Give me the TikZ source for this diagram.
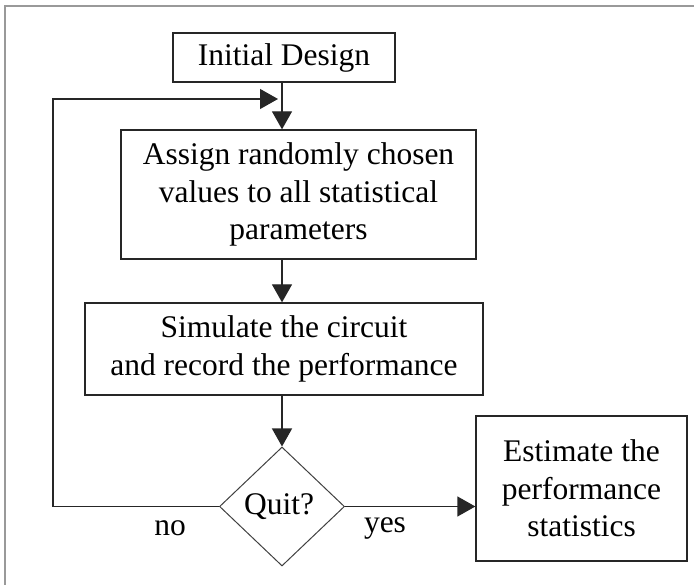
\documentclass[tikz,border=0pt]{standalone}
\usepackage{fontspec}
\setmainfont{Liberation Serif}
\usetikzlibrary{shapes.geometric,arrows.meta}
\begin{document}
\begin{tikzpicture}[x=1pt,y=-1pt,
  line width=1.3pt,
  every node/.style={font=\fontsize{31.5}{37.5}\selectfont, inner sep=0pt},
  procbox/.style={draw=black!85, rectangle, align=center},
  decision/.style={draw=black!75, diamond, aspect=1.05, line width=1pt},
  lbl/.style={},
  arr/.style={draw=black!85, -{Triangle[length=18pt,width=20pt]}},
  frame/.style={draw=black!40, line width=1.6pt}]
\useasboundingbox (0,0) rectangle (694,585);
\draw[frame] (5,585) -- (5,6) -- (694,6);
\node[procbox, minimum width=222, minimum height=49] (init) at (284,57.5) {Initial Design};
\node[procbox, minimum width=355, minimum height=129] (assign) at (298.5,194.5) {Assign randomly chosen\\values to all statistical\\parameters};
\node[procbox, minimum width=398, minimum height=92] (sim) at (284,349) {Simulate the circuit\\and record the performance};
\node[decision, minimum width=125, minimum height=119] (quit) at (282,506.5) {\hspace*{-6pt}Quit?};
\node[procbox, minimum width=211, minimum height=145] (est) at (581.5,488.5) {Estimate the\\performance\\statistics};
\node[lbl] (no) at (170,528) {no};
\node[lbl] (yes) at (385,528) {yes};
\coordinate (col) at (282,0);
\coordinate (lc) at (53,99);
\coordinate (fbend) at (278,99);
\draw[arr] (init.south -| col) -- (assign.north -| col);
\draw[arr] (assign.south -| col) -- (sim.north -| col);
\draw[arr] (sim.south -| col) -- (quit.north);
\draw[arr] (quit.west) -- (quit.west -| lc) -- (lc) -- (fbend);
\draw[arr] (quit.east) -- (quit.east -| est.west);
\end{tikzpicture}
\end{document}
